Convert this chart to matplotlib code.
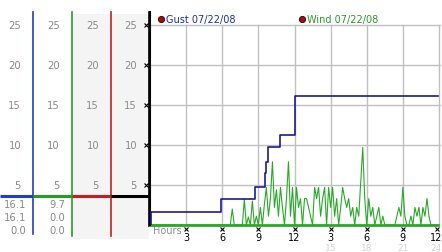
import numpy as np
import matplotlib
matplotlib.use('Agg')
import matplotlib.pyplot as plt
import matplotlib.transforms as mtrans

# gust steps (hour, mph)
gust_hours = [0.0, 0.08, 5.9, 8.7, 9.55, 9.65, 9.8, 10.8, 12.0, 12.05, 23.9]
gust_values = [0.0, 1.6, 3.2, 4.75, 6.5, 7.9, 9.7, 11.2, 14.9, 16.1, 16.1]

# wind, one reading every 10 minutes
wind_values = [
    0, 0, 0, 0, 0, 0, 0, 0, 0, 0, 0, 0,
    0, 0, 0, 0, 0, 0, 0, 0, 0, 0, 0, 0,
    0, 0, 0, 0, 0, 0, 0, 0, 0, 0, 0, 0,
    0, 0, 0, 0, 0, 2.0, 0, 0, 0, 0, 0, 3.2,
    0, 1.0, 0, 3.0, 0, 1.1, 0, 2.2, 0, 2.6, 4.7, 1.1,
    3.3, 7.9, 2.2, 4.4, 1.1, 4.7, 2.2, 0, 3.3, 7.9, 1.1, 4.7,
    0, 4.7, 2.2, 3.3, 0, 3.3, 3.3, 2.2, 1.1, 0, 4.7, 3.3,
    4.7, 1.1, 3.3, 4.7, 0, 4.7, 2.2, 4.7, 1.1, 3.3, 0, 2.2,
    4.7, 3.3, 2.2, 3.3, 1.1, 2.2, 0, 2.2, 1.1, 5.5, 9.7, 3.3,
    0, 3.3, 1.1, 2.2, 0, 1.1, 2.2, 0, 1.1, 0, 0, 0,
    0, 0, 0, 1.1, 2.2, 1.1, 4.7, 1.1, 0, 0, 1.1, 0,
    2.2, 1.1, 2.2, 0, 2.2, 1.1, 3.3, 1.1, 0, 0, 0, 0,
]
wind_hours = np.arange(len(wind_values)) / 6.0

y_ticks = [5, 10, 15, 20, 25]
x_ticks = [3, 6, 9, 12, 15, 18, 21, 24]
x_labels = ['3', '6', '9', '12', '3', '6', '9', '12']
x_labels2 = {15: '15', 18: '18', 21: '21', 24: '24'}

columns = [(0, 33, '#1f3fbf'), (33, 72, '#22a022'), (72, 111, '#c02020'), (111, 149, '#000000')]
col_current = ['16.1', '9.7']
col_high = ['16.1', '0.0']
col_low = ['0.0', '0.0']

gust_color = '#1a1a96'
wind_color = '#2aa82a'
W, H = 442, 253

fig = plt.figure(figsize=(W / 100, H / 100), dpi=100)
fig.patch.set_facecolor('white')

# overlay in pixel coords for the left panels
ov = fig.add_axes([0, 0, 1, 1], zorder=0)
ov.set_xlim(0, W)
ov.set_ylim(H, 0)
ov.axis('off')

# main chart
ax = fig.add_axes([150 / W, (H - 226) / H, (W - 150) / W, (226 - 13) / H], zorder=1)
ax.patch.set_alpha(0)
ax.set_xlim(0, (W - 150) / 12.042)
ax.set_ylim(0, (226 - 13) / 8.0)
for s in ['top', 'right', 'bottom']:
    ax.spines[s].set_visible(False)
ax.spines['left'].set_color('black')
ax.spines['left'].set_linewidth(1.5)
ax.set_xticks([])
ax.set_yticks([])

top_frac = 25 / ax.get_ylim()[1]
for v in y_ticks:
    ax.plot([0, 24.1], [v, v], color='#c0c0c0', lw=1, zorder=1)
for h in x_ticks:
    ax.axvline(h, ymin=0, ymax=top_frac, color='#c0c0c0', lw=1, zorder=1)

ax.plot(wind_hours, wind_values, color=wind_color, lw=0.8, zorder=2)
ax.plot([0, 23.9], [0, 0], color=wind_color, lw=2, zorder=2, clip_on=False)
ax.step(gust_hours, gust_values, where='post', color=gust_color, lw=1.2, zorder=3)

# y tick marks
ax.plot([-0.35] * len(y_ticks), y_ticks, 'x', color='black', ms=2.5, mew=0.8, clip_on=False)

# x tick marks and labels
xt = mtrans.blended_transform_factory(ax.transData, ov.transData)
for h, lab in zip(x_ticks, x_labels):
    ov.plot([min(h, 23.85)], [230], 'x', color='black', ms=2.5, mew=0.8, transform=xt, clip_on=False)
    ov.text(min(h, 23.75), 238.5, lab, transform=xt, ha='center', va='center', fontsize=7, color='black')
for h, lab in x_labels2.items():
    ov.text(min(h, 23.75), 248.5, lab, transform=xt, ha='center', va='center', fontsize=6.5, color='#d4d4d4')
ov.text(153, 231, 'Hours', ha='left', va='center', fontsize=7, color='#909090')

# legend
ov.plot([161], [20], 'o', color='#a01010', mec='#300000', ms=4.5, mew=0.6)
ov.text(166, 20, 'Gust 07/22/08', ha='left', va='center', fontsize=7, color='#1f2f9f')
ov.plot([302], [20], 'o', color='#a01010', mec='#300000', ms=4.5, mew=0.6)
ov.text(307, 20, 'Wind 07/22/08', ha='left', va='center', fontsize=7, color='#2a9a2a')

# left panels
ov.add_patch(plt.Rectangle((72, 15), 77, 225, color='#f4f4f4', lw=0))
yt = mtrans.blended_transform_factory(ov.transData, ax.transData)
bottoms = [235, 237, 237, 227]
for (x0, x1, c), yb in zip(columns, bottoms):
    ov.plot([x1, x1], [13, yb], color=c, lw=1.2)
    ov.plot([x0, x1], [197, 197], color=c, lw=2.2, solid_capstyle='butt')
    for v in y_ticks:
        ov.text(x1 - 12, v, str(v), transform=yt, ha='right', va='center',
                fontsize=7.2, color='#8a8a8a')
for i, (x0, x1, c) in enumerate(columns[:2]):
    ov.text(x1 - 7, 205, col_current[i], ha='right', va='center', fontsize=7.2, color='#8a8a8a')
    ov.text(x1 - 7, 218, col_high[i], ha='right', va='center', fontsize=7.2, color='#8a8a8a')
    ov.text(x1 - 7, 231, col_low[i], ha='right', va='center', fontsize=7.2, color='#8a8a8a')

fig.savefig('out.png', dpi=100)
